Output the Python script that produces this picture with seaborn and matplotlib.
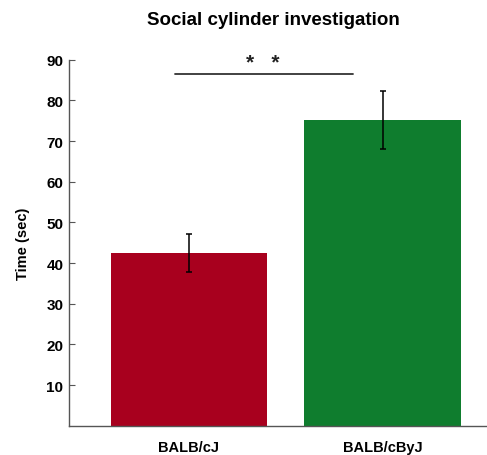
import matplotlib
matplotlib.use("Agg")
import matplotlib.pyplot as plt
import seaborn as sns
import pandas as pd

strains = ["BALB/cJ", "BALB/cByJ"]
mean_time = [42.4, 75.1]
sem_time = [4.7, 7.1]
bar_colors = ["#A8001E", "#0F7D2E"]
y_ticks = [10, 20, 30, 40, 50, 60, 70, 80, 90]

sns.set_style("white")
plt.rcParams["font.family"] = ["Liberation Sans", "DejaVu Sans"]
plt.rcParams["text.color"] = "black"
plt.rcParams["axes.labelcolor"] = "black"
plt.rcParams["xtick.color"] = "black"
plt.rcParams["ytick.color"] = "black"

df = pd.DataFrame({"strain": strains, "time": mean_time})

fig = plt.figure(figsize=(4.87, 4.56), dpi=100)
ax = fig.add_axes([0.1417, 0.0643, 0.8583, 0.8026])

sns.barplot(data=df, x="strain", y="time", hue="strain", palette=bar_colors,
            width=0.81, legend=False, errorbar=None, ax=ax, saturation=1,
            linewidth=0)
ax.errorbar(range(len(strains)), mean_time, yerr=sem_time, fmt="none",
            ecolor="black", elinewidth=1.1, capsize=2.5, capthick=1.1)

ax.set_xlim(-0.62, 1.54)
ax.set_ylim(0, 90)
ax.set_yticks(y_ticks)
ax.set_yticklabels([str(t) for t in y_ticks], fontweight="bold", fontsize=11)
ax.set_xticks(range(len(strains)))
ax.set_xticklabels(strains, fontweight="bold", fontsize=10.5)
ax.tick_params(axis="y", left=True, direction="in", length=4, width=0.8,
               color="#555555", pad=4, labelcolor="black")
ax.tick_params(axis="x", bottom=False, length=0, pad=10, labelcolor="black")

ax.set_xlabel("")
ax.set_ylabel("Time (sec)", fontweight="bold", fontsize=10.5, labelpad=12)
ax.set_title("Social cylinder investigation", fontweight="bold", fontsize=13.5,
             pad=26, x=0.49)

for side in ["top", "right"]:
    ax.spines[side].set_visible(False)
for side in ["left", "bottom"]:
    ax.spines[side].set_color("#555555")
    ax.spines[side].set_linewidth(1.0)

# significance bracket between the two strains
ax.plot([-0.07, 0.85], [86.5, 86.5], color="#333333", lw=1.3, clip_on=False)
ax.text(0.38, 89.4, "*   *", ha="center", va="center", fontsize=15,
        fontweight="bold", color="#222222")

fig.savefig("out.png", dpi=100)
